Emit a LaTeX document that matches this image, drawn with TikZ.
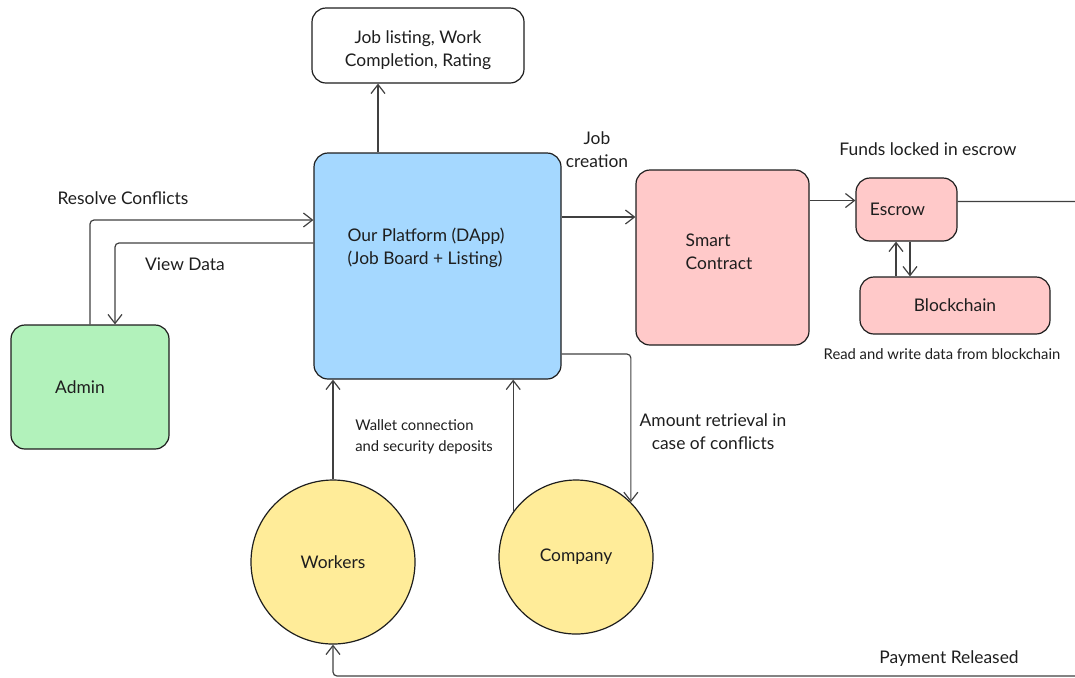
\documentclass[tikz,border=0pt]{standalone}
\usepackage{fontspec}
\setmainfont{Lato}
\usetikzlibrary{arrows.meta,positioning}

\definecolor{platblue}{HTML}{A5D8FF}
\definecolor{contractpink}{HTML}{FFC9C9}
\definecolor{admingreen}{HTML}{B2F2BB}
\definecolor{useryellow}{HTML}{FFEC99}
\definecolor{inkgrey}{HTML}{1E1E1E}

\tikzset{
  box/.style={draw=inkgrey, line width=0.6pt, rounded corners=7pt, inner sep=0pt,
    font=\fontsize{8.7}{11.5}\selectfont, text=inkgrey},
  actor/.style={draw=inkgrey, line width=0.6pt, circle, fill=useryellow, inner sep=0pt,
    font=\fontsize{8.7}{11.5}\selectfont, text=inkgrey},
  txt/.style={font=\fontsize{8.7}{11.5}\selectfont, text=inkgrey, inner sep=0pt},
  smalltxt/.style={font=\fontsize{7.4}{10.4}\selectfont, text=inkgrey, inner sep=0pt},
  conn/.style={draw=inkgrey!85, line width=0.6pt, rounded corners=2pt,
    -{Straight Barb[length=4.5pt,width=7pt]}}
}

\begin{document}
\begin{tikzpicture}[x=0.5pt, y=-0.5pt]
\useasboundingbox (0,0) rectangle (1075,677);

% boxes
\node[box, fill=white, minimum width=106pt, minimum height=37.5pt] (listing) at (418,45.5) {};
\node[txt, align=center] (listingtxt) at (418,50.5) {Job listing, Work\\Completion, Rating};
\node[box, fill=platblue, minimum width=123.5pt, minimum height=113pt] (platform) at (437.5,266) {};
\node[txt, align=left] (platformtxt) at (426,248) {Our Platform (DApp)\\(Job Board + Listing)};
\node[box, fill=contractpink, minimum width=86.5pt, minimum height=87.5pt] (smart) at (722.5,257.5) {};
\node[txt, align=left] (smarttxt) at (719,252) {Smart\\Contract};
\node[box, fill=contractpink, minimum width=50.5pt, minimum height=31.5pt] (escrow) at (906.5,209.5) {\hspace*{-9pt}Escrow};
\node[box, fill=contractpink, minimum width=95pt, minimum height=28.5pt] (blockchain) at (955,305.5) {Blockchain};
\node[box, fill=admingreen, minimum width=79pt, minimum height=62pt] (admin) at (90,387) {\hspace*{-10pt}Admin};

% users
\node[actor, minimum size=82pt] (workers) at (333,562) {Workers};
\node[actor, minimum size=77pt] (company) at (576,557) {Company};

% labels
\node[txt] (resolvelbl) at (123,198) {Resolve Conflicts};
\node[txt] (viewlbl) at (185,264) {View Data};
\node[txt, align=center] (joblbl) at (597,150) {Job\\creation};
\node[txt] (fundslbl) at (928,149) {Funds locked in escrow};
\node[smalltxt] (rwlbl) at (942,354) {Read and write data from blockchain};
\node[smalltxt, align=left] (walletlbl) at (424,437) {Wallet connection\\and security deposits};
\node[txt, align=center] (amountlbl) at (713,432) {Amount retrieval in\\case of conflicts};
\node[txt] (paymentlbl) at (949,659) {Payment Released};

% connectors
\draw[conn] ([xshift=-29.75pt]platform.north) -- ([xshift=-29.75pt]platform.north |- listing.south);
\draw[conn] (admin.north) |- ([yshift=23pt]platform.west);
\draw[conn] ([yshift=11.5pt]platform.west) -| ([xshift=12.5pt]admin.north);
\draw[conn] ([yshift=24.5pt]platform.east) -- ([yshift=24.5pt]platform.east -| smart.west);
\draw[conn] ([yshift=28.5pt]smart.east) -- ([yshift=28.5pt]smart.east -| escrow.west);
\draw[conn] ([xshift=-5.25pt]escrow.south |- blockchain.north) -- ([xshift=-5.25pt]escrow.south);
\draw[conn] ([xshift=1.75pt]escrow.south) -- ([xshift=1.75pt]escrow.south |- blockchain.north);
\draw[conn] (workers.north) -- (workers.north |- platform.south);
\draw[conn] (company.144) -- (company.144 |- platform.south);
\draw[conn] ([yshift=-44pt]platform.east) -| (company.45);
\draw[conn] ([yshift=4pt]escrow.east) -- ([yshift=4pt]escrow.east -| 1095,0) |- (1095,676) -| (workers.south);
\end{tikzpicture}
\end{document}
